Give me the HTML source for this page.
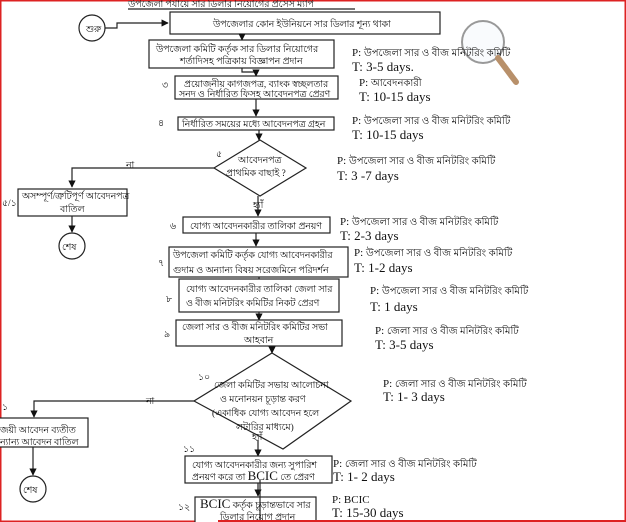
<!DOCTYPE html>
<html><head><meta charset="utf-8"><style>
html,body{margin:0;padding:0;background:#fff;}
svg{display:block;}
text{font-family:"Liberation Serif","DejaVu Sans",sans-serif;fill:#111;}
.b{font-size:9.3px;}
.p{font-size:10px;}
.pt{font-size:11px;}
.t{font-size:13px;}
</style></head><body>
<svg width="626" height="522" viewBox="0 0 626 522" xmlns="http://www.w3.org/2000/svg">
<defs><marker id="a" viewBox="0 0 10 10" refX="9" refY="5" markerWidth="6" markerHeight="6" orient="auto"><path d="M0,0L10,5L0,10z" fill="#111"/></marker></defs>
<rect x="0.5" y="0.5" width="625" height="521" fill="#fff" stroke="#d22" stroke-width="2"/>
<g stroke="#222" stroke-width="1.2" fill="#fff">
<text x="128" y="7" class="b" stroke="none">উপজেলা পর্যায়ে সার ডিলার নিয়োগের প্রসেস ম্যাপ</text>
<line x1="128" y1="9" x2="355" y2="9"/>
<circle cx="92" cy="28" r="13"/>
<polyline points="105,28 117,28 117,23 168,23" fill="none" marker-end="url(#a)"/>
<rect x="170" y="12" width="270" height="22"/>
<rect x="149" y="40" width="185" height="28"/>
<line x1="242" y1="34" x2="242" y2="40" marker-end="url(#a)"/>
<rect x="175" y="76" width="163" height="23"/>
<polyline points="242,68 242,72 256,72 256,76" fill="none" marker-end="url(#a)"/>
<rect x="178" y="117" width="156" height="13"/>
<line x1="256" y1="99" x2="256" y2="116" marker-end="url(#a)"/>
<line x1="259" y1="130" x2="259" y2="140" marker-end="url(#a)"/>
<polygon points="260,140 306,168 260,196 214,168"/>
<polyline points="214,168 72,168 72,187" fill="none" marker-end="url(#a)"/>
<rect x="18" y="189" width="109" height="27"/>
<line x1="72" y1="216" x2="72" y2="232" marker-end="url(#a)"/>
<circle cx="72" cy="246" r="13"/>
<line x1="258" y1="196" x2="258" y2="216" marker-end="url(#a)"/>
<rect x="183" y="217" width="147" height="16"/>
<line x1="256" y1="233" x2="256" y2="246" marker-end="url(#a)"/>
<rect x="169" y="247" width="179" height="30"/>
<line x1="259" y1="277" x2="259" y2="279"/>
<rect x="179" y="279" width="160" height="33"/>
<line x1="259" y1="312" x2="259" y2="320" marker-end="url(#a)"/>
<rect x="176" y="320" width="166" height="26"/>
<line x1="272" y1="346" x2="272" y2="353" marker-end="url(#a)"/>
<polygon points="272,353 351,401 283,449 194,401"/>
<polyline points="194,401 34,401 34,417" fill="none" marker-end="url(#a)"/>
<rect x="-2" y="418" width="90" height="29"/>
<line x1="33" y1="447" x2="33" y2="475" marker-end="url(#a)"/>
<circle cx="33" cy="489" r="13"/>
<line x1="258" y1="440" x2="258" y2="456" marker-end="url(#a)"/>
<rect x="185" y="456" width="147" height="27"/>
<line x1="258" y1="483" x2="258" y2="496" marker-end="url(#a)"/>
<rect x="195" y="497" width="121" height="30"/>
<line x1="260" y1="480" x2="260" y2="522"/>
<line x1="218" y1="521" x2="626" y2="521" stroke="#d22" stroke-width="2"/>
<circle cx="483" cy="42" r="21" fill="#f3f7fb" fill-opacity="0.5" stroke="#999" stroke-width="2"/>
<line x1="498" y1="58" x2="516" y2="82" stroke="#b8906a" stroke-width="6" stroke-linecap="round"/>
</g>
<g class="b">
<text x="86" y="32">শুরু</text>
<text x="213" y="27">উপজেলার কোন ইউনিয়নে সার ডিলার শূন্য থাকা</text>
<text x="156" y="52">উপজেলা কমিটি কর্তৃক সার ডিলার নিয়োগের</text>
<text x="180" y="64">শর্তাদিসহ পত্রিকায় বিজ্ঞাপন প্রদান</text>
<text x="162" y="88">৩</text>
<text x="184" y="87">প্রয়োজনীয় কাগজপত্র, ব্যাংক স্বচ্ছলতার</text>
<text x="179" y="97">সনদ ও নির্ধারিত ফিসহ আবেদনপত্র প্রেরণ</text>
<text x="158" y="126">৪</text>
<text x="182" y="127">নির্ধারিত সময়ের মধ্যে আবেদনপত্র গ্রহন</text>
<text x="216" y="157">৫</text>
<text x="238" y="163">আবেদনপত্র</text>
<text x="226" y="176">প্রাথমিক বাছাই ?</text>
<text x="126" y="168">না</text>
<text x="2" y="206">৫/১</text>
<text x="22" y="199">অসম্পূর্ণ/ত্রুটিপূর্ণ আবেদনপত্র</text>
<text x="60" y="212">বাতিল</text>
<text x="62" y="250">শেষ</text>
<text x="253" y="208">হ্যাঁ</text>
<text x="170" y="229">৬</text>
<text x="190" y="229">যোগ্য আবেদনকারীর তালিকা প্রনয়ণ</text>
<text x="158" y="266">৭</text>
<text x="173" y="258">উপজেলা কমিটি কর্তৃক যোগ্য আবেদনকারীর</text>
<text x="173" y="273">গুদাম ও অন্যান্য বিষয় সরেজমিনে পরিদর্শন</text>
<text x="166" y="302">৮</text>
<text x="186" y="292">যোগ্য আবেদনকারীর তালিকা জেলা সার</text>
<text x="186" y="306">ও বীজ মনিটরিং কমিটির নিকট প্রেরণ</text>
<text x="164" y="337">৯</text>
<text x="182" y="330">জেলা সার ও বীজ মনিটরিং কমিটির সভা</text>
<text x="244" y="343">আহবান</text>
<text x="198" y="380">১০</text>
<text x="214" y="388">জেলা কমিটির সভায় আলোচনা</text>
<text x="220" y="402">ও মনোনয়ন চূড়ান্ত করণ</text>
<text x="212" y="416">(একাধিক যোগ্য আবেদন হলে</text>
<text x="236" y="430">লটারির মাধ্যমে)</text>
<text x="252" y="440">হ্যাঁ</text>
<text x="146" y="404">না</text>
<text x="2" y="410">১</text>
<text x="0" y="433">জয়ী আবেদন ব্যতীত</text>
<text x="0" y="445">ন্যান্য আবেদন বাতিল</text>
<text x="23" y="493">শেষ</text>
<text x="183" y="452">১১</text>
<text x="192" y="468">যোগ্য আবেদনকারীর জন্য সুপারিশ</text>
<text x="192" y="480">প্রনয়ণ করে তা <tspan font-size="13">BCIC</tspan> তে প্রেরণ</text>
<text x="178" y="510">১২</text>
<text x="200" y="508"><tspan font-size="13">BCIC</tspan> কর্তৃক চূড়ান্তভাবে সার</text>
<text x="220" y="520">ডিলার নিয়োগ প্রদান</text>
</g>
<g>
<text x="352" y="56" class="pt">P: <tspan class="p">উপজেলা সার ও বীজ মনিটরিং কমিটি</tspan></text>
<text x="352" y="71" class="t">T: 3-5 days.</text>
<text x="359" y="86" class="pt">P: <tspan class="p">আবেদনকারী</tspan></text>
<text x="359" y="101" class="t">T: 10-15 days</text>
<text x="352" y="124" class="pt">P: <tspan class="p">উপজেলা সার ও বীজ মনিটরিং কমিটি</tspan></text>
<text x="352" y="139" class="t">T: 10-15 days</text>
<text x="337" y="164" class="pt">P: <tspan class="p">উপজেলা সার ও বীজ মনিটরিং কমিটি</tspan></text>
<text x="337" y="180" class="t">T: 3 -7 days</text>
<text x="340" y="225" class="pt">P: <tspan class="p">উপজেলা সার ও বীজ মনিটরিং কমিটি</tspan></text>
<text x="340" y="240" class="t">T: 2-3 days</text>
<text x="354" y="256" class="pt">P: <tspan class="p">উপজেলা সার ও বীজ মনিটরিং কমিটি</tspan></text>
<text x="354" y="272" class="t">T: 1-2 days</text>
<text x="370" y="294" class="pt">P: <tspan class="p">উপজেলা সার ও বীজ মনিটরিং কমিটি</tspan></text>
<text x="370" y="311" class="t">T: 1 days</text>
<text x="375" y="334" class="pt">P: <tspan class="p">জেলা সার ও বীজ মনিটরিং কমিটি</tspan></text>
<text x="375" y="349" class="t">T: 3-5 days</text>
<text x="383" y="387" class="pt">P: <tspan class="p">জেলা সার ও বীজ মনিটরিং কমিটি</tspan></text>
<text x="383" y="401" class="t">T: 1- 3 days</text>
<text x="333" y="467" class="pt">P: <tspan class="p">জেলা সার ও বীজ মনিটরিং কমিটি</tspan></text>
<text x="333" y="481" class="t">T: 1- 2 days</text>
<text x="332" y="503" class="pt">P: BCIC</text>
<text x="332" y="517" class="t">T: 15-30 days</text>
</g>
</svg>
</body></html>
